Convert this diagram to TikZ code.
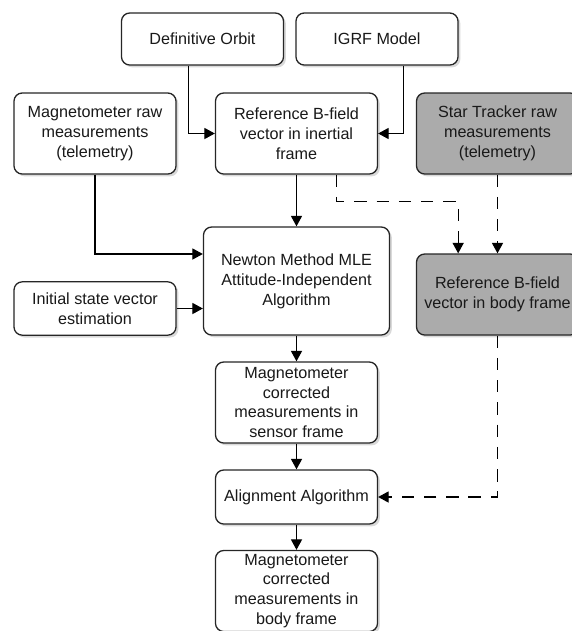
\documentclass[tikz,border=0pt]{standalone}
\usepackage{fontspec}
\setmainfont{Liberation Sans}
\usetikzlibrary{arrows.meta,shadows}
\definecolor{boxgrey}{RGB}{171,171,171}
\definecolor{txt}{RGB}{25,25,25}
\begin{document}
\begin{tikzpicture}[x=0.03cm,y=-0.03cm,
	box/.style={draw=black!85,line width=1.1pt,rounded corners=7pt,fill=white,align=center,
		text=txt,inner sep=0pt,minimum width=4.86cm,minimum height=2.43cm,
		font=\fontsize{13.8}{17}\selectfont,
		drop shadow={shadow xshift=2pt,shadow yshift=-2pt,opacity=0.25,fill=black!60}},
	greybox/.style={box,fill=boxgrey},
	arr/.style={line width=1.1pt,-{Triangle[length=9pt,width=9.5pt]}},
	darr/.style={arr,dash pattern=on 10.5pt off 8.5pt}]
	\useasboundingbox (0,0) rectangle (572,631);
	% top row
	\node[box,minimum height=1.56cm] (defo) at (202.5,39) {Definitive Orbit};
	\node[box,minimum height=1.56cm] (igrf) at (377,39) {IGRF Model};
	% second row
	\node[box] (magraw) at (95,133.5) {Magnetometer raw\\measurements\\(telemetry)};
	\node[box] (refin) at (296.5,133.5) {Reference B-field\\vector in inertial\\frame};
	\node[greybox] (star) at (497.5,133.5) {Star Tracker raw\\measurements\\(telemetry)};
	% estimation
	\node[box,minimum width=5.58cm,minimum height=3.24cm] (newton) at (296.5,281) {Newton Method MLE\\Attitude-Independent\\Algorithm};
	\node[box,minimum height=1.6cm] (init) at (95,308.5) {Initial state vector\\estimation};
	\node[greybox] (bodyf) at (497.5,294.5) {Reference B-field\\vector in body frame};
	% lower column
	\node[box] (sensor) at (296.5,402.5) {Magnetometer\\corrected\\measurements in\\sensor frame};
	\node[box,minimum height=1.62cm] (align) at (296.5,497) {Alignment Algorithm};
	\node[box] (final) at (296.5,591) {Magnetometer\\corrected\\measurements in\\body frame};
	% solid arrows
	\draw[arr] ([xshift=-0.41cm]defo.south) |- (refin.west);
	\draw[arr] ([xshift=0.8cm]igrf.south) |- (refin.east);
	\draw[arr] (magraw.south) |- ([yshift=0.81cm]newton.west);
	\draw[arr] (init.east) -- (init.east -| newton.west);
	\draw[arr] (refin.south) -- (newton.north);
	\draw[arr] (newton.south) -- (sensor.north);
	\draw[arr] (sensor.south) -- (align.north);
	\draw[arr] (align.south) -- (final.north);
	% dashed arrows
	\draw[darr] ([xshift=1.21cm]refin.south) -- ++(0,27) -| ([xshift=-1.18cm]bodyf.north);
	\draw[darr] (star.south) -- (bodyf.north);
	\draw[darr] (bodyf.south) |- (align.east);
\end{tikzpicture}
\end{document}
